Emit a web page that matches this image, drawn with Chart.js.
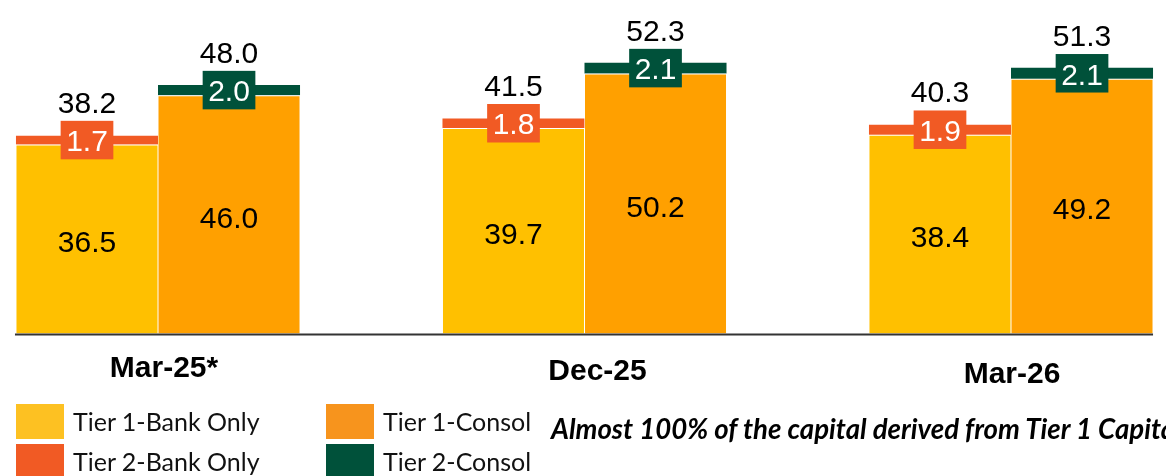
<!DOCTYPE html>
<html>
<head>
<meta charset="utf-8">
<script src="https://cdn.jsdelivr.net/npm/chart.js@4.4.1/dist/chart.umd.min.js"></script>
<style>
  html, body { margin: 0; padding: 0; background: #ffffff; }
  #wrap { position: relative; width: 1166px; height: 476px; overflow: hidden; background: #fff; }
  #c { position: absolute; left: 0; top: 0; }
  .leg { position: absolute; display: flex; align-items: center; height: 35px; white-space: nowrap;
         font-family: Lato, "Liberation Sans", sans-serif; font-size: 25px; color: #111; }
  .leg .sw { width: 48px; height: 35px; margin-right: 9px; flex: none; }
  .leg .tx { line-height: 35px; }
  #note { position: absolute; left: 551px; top: 413px; white-space: nowrap; line-height: 32px;
          font-family: Lato, "Liberation Sans", sans-serif; font-weight: bold; font-style: italic;
          font-size: 27.6px; color: #000; }
</style>
</head>
<body>
<div id="wrap">
  <canvas id="c" width="1166" height="476"></canvas>
  <div id="legend"></div>
  <div id="note">Almost 100% of the capital derived from Tier 1 Capital</div>
</div>
<script>
// ---- data ----
const categories   = ['Mar-25*', 'Dec-25', 'Mar-26'];
const tier1Bank    = [36.5, 39.7, 38.4];
const tier2Bank    = [1.7, 1.8, 1.9];
const tier1Consol  = [46.0, 50.2, 49.2];
const tier2Consol  = [2.0, 2.1, 2.1];
const seriesNames  = ['Tier 1-Bank Only', 'Tier 1-Consol', 'Tier 2-Bank Only', 'Tier 2-Consol'];

// ---- style ----
const barColors    = ['#FFC000', '#FFA000', '#F15A24', '#00513A'];
const legendColors = ['#FDC122', '#F7941D', '#F15A24', '#00513A'];
const legendSlots  = [[16, 404], [326, 404], [16, 444], [326, 444]];
const catNudge     = [[6, 43.5], [13, 46.5], [1, 49.5]];
const valueFont    = '30px "Liberation Sans", Arial, sans-serif';
const catFont      = 'bold 30px "Liberation Sans", Arial, sans-serif';

const seriesValues = [tier1Bank, tier1Consol, tier2Bank, tier2Consol];
const stacks = ['bank', 'consol', 'bank', 'consol'];
const tiers  = [1, 1, 2, 2];

const datasets = seriesNames.map((name, i) => ({
  label: name,
  data: seriesValues[i],
  stack: stacks[i],
  backgroundColor: barColors[i],
  borderColor: 'rgba(255,255,255,0.9)',
  borderWidth: tiers[i] === 1 ? { top: 1, left: 0.5, right: 0.5, bottom: 0 } : 0,
  borderSkipped: false,
  clip: false,
  tier: tiers[i]
}));

const labelPlugin = {
  id: 'valueLabels',
  afterDatasetsDraw(chart) {
    const ctx = chart.ctx;
    const metas = chart.data.datasets.map((d, i) => chart.getDatasetMeta(i));
    const yb = chart.scales.y.getPixelForValue(0);
    const xs = chart.scales.x;

    ctx.save();
    // axis line spanning the bars
    const first = metas[0].data[0].getProps(['x', 'width'], true);
    const lastEls = metas[1].data;
    const last = lastEls[lastEls.length - 1].getProps(['x', 'width'], true);
    ctx.fillStyle = '#333333';
    ctx.fillRect(first.x - first.width / 2 - 1, yb, (last.x + last.width / 2) - (first.x - first.width / 2) + 1, 2);

    ctx.textAlign = 'center';
    ctx.textBaseline = 'alphabetic';
    ctx.font = valueFont;

    chart.data.datasets.forEach((ds, di) => {
      const meta = metas[di];
      meta.data.forEach((el, idx) => {
        const p = el.getProps(['x', 'y', 'base', 'width'], true);
        const mid = (p.y + p.base) / 2;
        const v = ds.data[idx];
        if (ds.tier === 1) {
          ctx.fillStyle = '#000000';
          ctx.fillText(v.toFixed(1), p.x, mid + 2.5 + 0.358 * 30);
        } else {
          const txt = v.toFixed(1);
          const w = ctx.measureText(txt).width + 11;
          const h = 38.5;
          const top = mid - h / 2;
          ctx.fillStyle = ds.backgroundColor;
          ctx.fillRect(p.x - w / 2, top, w, h);
          ctx.fillStyle = '#ffffff';
          ctx.fillText(txt, p.x, mid + 0.5 + 0.358 * 30);
          // total above the box
          const t1 = chart.data.datasets.find(d => d.stack === ds.stack && d.tier === 1);
          const total = t1.data[idx] + v;
          ctx.fillStyle = '#000000';
          ctx.fillText(total.toFixed(1), p.x, top - 8);
        }
      });
    });

    // category labels
    ctx.font = catFont;
    ctx.fillStyle = '#000000';
    categories.forEach((c, i) => {
      const px = xs.getPixelForValue(i);
      ctx.fillText(c, px + catNudge[i][0], yb + catNudge[i][1]);
    });
    ctx.restore();
  }
};

new Chart(document.getElementById('c'), {
  type: 'bar',
  data: { labels: categories, datasets },
  options: {
    responsive: false,
    animation: false,
    categoryPercentage: 0.666,
    barPercentage: 1.0,
    layout: { padding: { left: 158, right: 155, top: 0, bottom: 142.5 } },
    scales: {
      x: { type: 'category', offset: false, display: false, stacked: true },
      y: { display: false, min: 0, max: 64.4, stacked: true }
    },
    plugins: { legend: { display: false }, tooltip: { enabled: false } }
  },
  plugins: [labelPlugin]
});

// HTML legend from the dataset definitions
const legendEl = document.getElementById('legend');
seriesNames.forEach((name, i) => {
  const item = document.createElement('div');
  item.className = 'leg';
  item.style.left = legendSlots[i][0] + 'px';
  item.style.top = legendSlots[i][1] + 'px';
  const sw = document.createElement('span');
  sw.className = 'sw';
  sw.style.background = legendColors[i];
  const tx = document.createElement('span');
  tx.className = 'tx';
  tx.textContent = name;
  item.appendChild(sw);
  item.appendChild(tx);
  legendEl.appendChild(item);
});
</script>
</body>
</html>
